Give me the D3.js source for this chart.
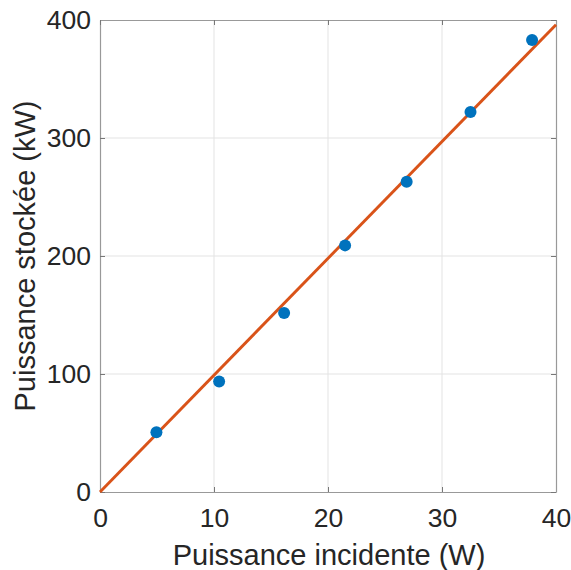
<!DOCTYPE html>
<html><head><meta charset="utf-8">
<script src="https://cdn.jsdelivr.net/npm/d3@7"></script>
<style>body{margin:0;background:#fff;} text{font-family:"Liberation Sans",Arial,sans-serif;}</style>
</head><body><svg id="c" width="571" height="570"></svg>
<script>
const xVals = [4.95, 10.45, 16.15, 21.5, 26.9, 32.5, 37.9];
const yVals = [50.7, 93.6, 151.7, 209, 263, 322, 383];
const fitX = [0, 40];
const fitY = [0, 396];
const xTicks = [0, 10, 20, 30, 40];
const yTicks = [0, 100, 200, 300, 400];
const xLabel = "Puissance incidente (W)";
const yLabel = "Puissance stockée (kW)";

const L = 100, R = 556, T = 20, B = 492;
const svg = d3.select("#c");
const x = d3.scaleLinear().domain([0, 40]).range([L, R]);
const y = d3.scaleLinear().domain([0, 400]).range([B, T]);

// grid
svg.append("g").selectAll("line").data(xTicks.slice(1, -1)).join("line")
  .attr("x1", d => x(d)).attr("x2", d => x(d)).attr("y1", T).attr("y2", B)
  .attr("stroke", "#e3e3e3").attr("stroke-width", 1);
svg.append("g").selectAll("line").data(yTicks.slice(1, -1)).join("line")
  .attr("y1", d => y(d)).attr("y2", d => y(d)).attr("x1", L).attr("x2", R)
  .attr("stroke", "#e3e3e3").attr("stroke-width", 1);

// axes
const ax = svg.append("g").attr("transform", `translate(0,${B})`)
  .call(d3.axisBottom(x).tickValues(xTicks).tickSizeInner(-5).tickSizeOuter(0).tickPadding(16));
const ay = svg.append("g").attr("transform", `translate(${L},0)`)
  .call(d3.axisLeft(y).tickValues(yTicks).tickSizeInner(-5).tickSizeOuter(0).tickPadding(9));
const axT = svg.append("g").attr("transform", `translate(0,${T})`)
  .call(d3.axisTop(x).tickValues(xTicks).tickSizeInner(-5).tickSizeOuter(0).tickFormat(""));
const ayR = svg.append("g").attr("transform", `translate(${R},0)`)
  .call(d3.axisRight(y).tickValues(yTicks).tickSizeInner(-5).tickSizeOuter(0).tickFormat(""));
[ax, ay, axT, ayR].forEach(g => {
  g.select(".domain").attr("stroke", "#999").attr("stroke-width", 1.2);
  g.selectAll(".tick line").attr("stroke", "#777");
  g.selectAll(".tick text").attr("fill", "#262626").style("font-size", "26.5px")
   .style("font-family", "'Liberation Sans',Arial,sans-serif");
});
ax.selectAll(".tick text").attr("dy", "0.71em");

// fit line
svg.append("path").datum(fitX.map((v, i) => [v, fitY[i]]))
  .attr("d", d3.line().x(d => x(d[0])).y(d => y(d[1])))
  .attr("fill", "none").attr("stroke", "#D95319").attr("stroke-width", 2.9);

// points
svg.append("g").selectAll("circle").data(xVals.map((v, i) => [v, yVals[i]])).join("circle")
  .attr("cx", d => x(d[0])).attr("cy", d => y(d[1])).attr("r", 6).attr("fill", "#0072BD");

// labels
svg.append("text").attr("x", (L + R) / 2 + 1).attr("y", 565).attr("text-anchor", "middle")
  .attr("fill", "#262626").style("font-size", "29px").text(xLabel);
svg.append("text").attr("transform", `translate(35,${(T + B) / 2}) rotate(-90)`)
  .attr("text-anchor", "middle").attr("fill", "#262626").style("font-size", "29px").text(yLabel);
</script></body></html>
